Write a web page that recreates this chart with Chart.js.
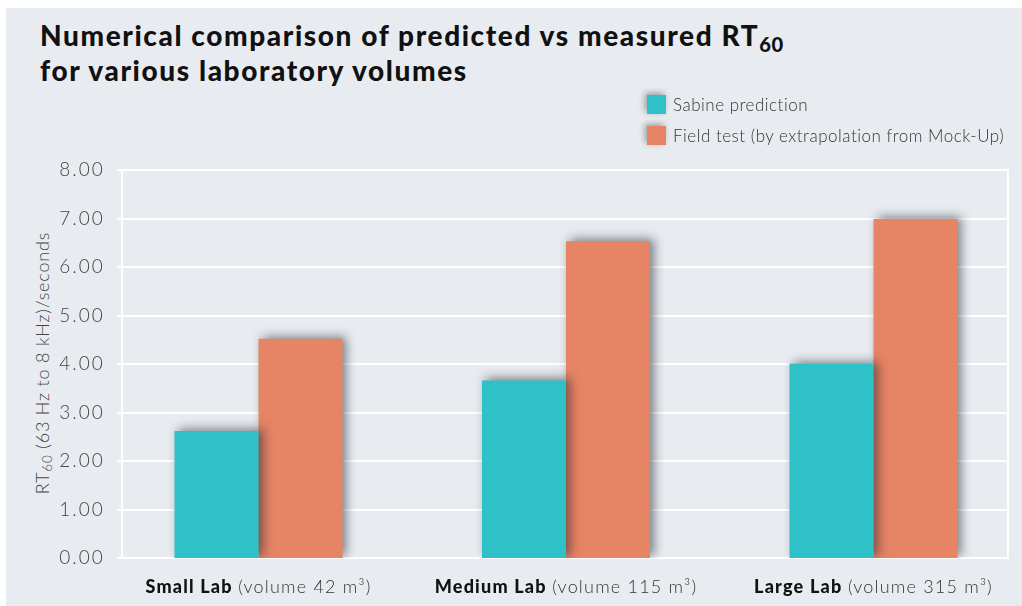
<!DOCTYPE html>
<html><head><meta charset="utf-8">
<script src="https://cdn.jsdelivr.net/npm/chart.js@4.4.1/dist/chart.umd.min.js"></script>
<style>
html,body{margin:0;padding:0;width:1022px;height:606px;overflow:hidden;background:#fff;}
#panel{position:absolute;left:6px;top:8px;width:1016px;height:598px;background:#e8ecf0;}
#wrap{position:absolute;left:0;top:0;width:1040px;height:606px;}
#title{position:absolute;left:40px;top:18px;font:900 28px Lato, sans-serif;line-height:35px;letter-spacing:1.6px;color:#111;white-space:nowrap;}
#title sub{font-size:72%;line-height:0;vertical-align:-0.28em;letter-spacing:0.5px;}
.leg{position:absolute;left:647px;height:19px;font:300 17px Lato, sans-serif;letter-spacing:0.5px;color:#333;white-space:nowrap;}
.leg i{position:absolute;left:0;top:0;width:19px;height:19px;box-shadow:-2px -2px 6px rgba(0,0,0,0.35);}
.leg span{position:absolute;left:26px;top:-1px;line-height:21px;}
#ytitle{position:absolute;left:42px;top:363px;transform:translate(-50%,-50%) rotate(-90deg);font:300 18px Lato, sans-serif;letter-spacing:0.8px;color:#444;white-space:nowrap;line-height:20px;}
#ytitle sub{font-size:75%;line-height:0;vertical-align:-0.25em;}
</style></head>
<body>
<div id="panel"></div>
<div id="title">Numerical comparison of predicted vs measured RT<sub>60</sub><br>for various laboratory volumes</div>
<div id="ytitle">RT<sub>60</sub> (63 Hz to 8 kHz)/seconds</div>
<div id="wrap"><canvas id="c"></canvas></div>
<div id="legend"></div>
<script>
const categories = ['Small Lab', 'Medium Lab', 'Large Lab'];
const categoryNotes = ['(volume 42 m³)', '(volume 115 m³)', '(volume 315 m³)'];
const seriesNames = ['Sabine prediction', 'Field test (by extrapolation from Mock-Up)'];
const sabine = [2.62, 3.66, 4.01];
const fieldTest = [4.52, 6.53, 6.99];
const seriesColors = ['#2ec2c8', '#e68466'];
const yMin = 0, yMax = 8, yStep = 0.5;

// HTML legend
const lg = document.getElementById('legend');
seriesNames.forEach((n, i) => {
  const d = document.createElement('div');
  d.className = 'leg';
  d.style.top = (95 + i * 31) + 'px';
  d.innerHTML = '<i style="background:' + seriesColors[i] + '"></i><span></span>';
  d.querySelector('span').textContent = n;
  lg.appendChild(d);
});

const gridPlugin = {
  id: 'gridPlugin',
  beforeDraw(chart) { chart.ctx.letterSpacing = '2px'; },
  beforeDatasetsDraw(chart) {
    const ctx = chart.ctx, y = chart.scales.y;
    ctx.letterSpacing = '0px';
    ctx.save();
    ctx.strokeStyle = '#ffffff';
    ctx.lineWidth = 2;
    y.ticks.forEach(t => {
      const py = Math.round(y.getPixelForValue(t.value));
      ctx.beginPath(); ctx.moveTo(117, py); ctx.lineTo(1009, py); ctx.stroke();
    });
    const top = Math.round(y.getPixelForValue(yMax)), bot = Math.round(y.getPixelForValue(yMin));
    [122, 1008].forEach(px => { ctx.beginPath(); ctx.moveTo(px, top - 1); ctx.lineTo(px, bot + 1); ctx.stroke(); });
    ctx.restore();
  }
};
const shadowPlugin = {
  id: 'shadowPlugin',
  beforeDatasetDraw(chart) {
    const ctx = chart.ctx;
    ctx.save();
    ctx.shadowColor = 'rgba(30,35,45,0.55)';
    ctx.shadowBlur = 10;
    ctx.shadowOffsetX = 4;
    ctx.shadowOffsetY = -2;
  },
  afterDatasetDraw(chart) { chart.ctx.restore(); }
};
const xLabelPlugin = {
  id: 'xLabelPlugin',
  afterDraw(chart) {
    const ctx = chart.ctx, x = chart.scales.x;
    ctx.save();
    ctx.letterSpacing = '1.2px';
    ctx.textBaseline = 'alphabetic';
    ctx.textAlign = 'left';
    categories.forEach((c, i) => {
      const cx = x.getPixelForTick(i);
      const bFont = '900 18px Lato, sans-serif', lFont = '300 18px Lato, sans-serif';
      ctx.font = bFont; const wb = ctx.measureText(c + ' ').width;
      ctx.font = lFont; const wl = ctx.measureText(categoryNotes[i]).width;
      let sx = cx - (wb + wl) / 2;
      ctx.font = bFont; ctx.fillStyle = '#111'; ctx.fillText(c, sx, 593);
      ctx.font = lFont; ctx.fillStyle = '#333'; ctx.fillText(categoryNotes[i], sx + wb, 593);
    });
    ctx.restore();
  }
};

new Chart(document.getElementById('c'), {
  type: 'bar',
  data: {
    labels: categories,
    datasets: [
      { label: seriesNames[0], data: sabine, backgroundColor: seriesColors[0] },
      { label: seriesNames[1], data: fieldTest, backgroundColor: seriesColors[1] }
    ]
  },
  options: {
    responsive: true,
    maintainAspectRatio: false,
    animation: false,
    devicePixelRatio: 1,
    layout: { padding: { top: 170, bottom: 48, left: 32, right: 12.75 } },
    plugins: { legend: { display: false }, title: { display: false }, tooltip: { enabled: false } },
    datasets: { bar: { categoryPercentage: 0.5463, barPercentage: 1, borderWidth: 0 } },
    scales: {
      x: { display: false, offset: true },
      y: {
        min: yMin, max: yMax,
        grid: { display: false, drawTicks: false },
        border: { display: false },
        ticks: {
          stepSize: yStep, padding: 0, color: '#444',
          font: { family: 'Lato', weight: '300', size: 19 },
          callback: v => Number.isInteger(v) ? v.toFixed(2) : ''
        },
        title: { display: false },
        afterFit: s => { s.width = 72.75; }
      }
    }
  },
  plugins: [gridPlugin, shadowPlugin, xLabelPlugin]
});
</script>
</body></html>
